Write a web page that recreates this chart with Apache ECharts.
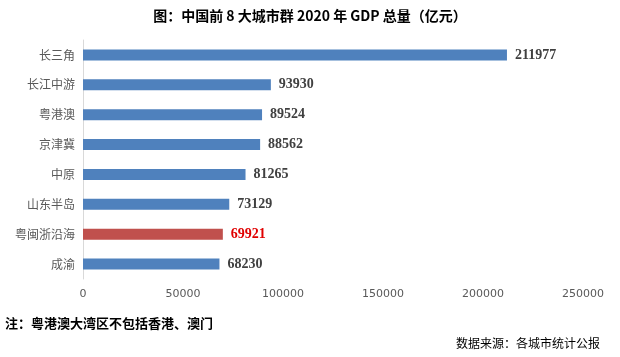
<!DOCTYPE html>
<html><head><meta charset="utf-8">
<script src="https://cdn.jsdelivr.net/npm/echarts@6/dist/echarts.min.js"></script>
<style>html,body{margin:0;padding:0;background:#fff}#c{width:620px;height:357px}</style>
</head><body><div id="c"></div>
<script>
var categories = ['长三角','长江中游','粤港澳','京津冀','中原','山东半岛','粤闽浙沿海','成渝'];
var values = [211977, 93930, 89524, 88562, 81265, 73129, 69921, 68230];
var highlight = '粤闽浙沿海';
var xTicks = [0, 50000, 100000, 150000, 200000, 250000];
var titleText = '图：中国前 8 大城市群 2020 年 GDP 总量（亿元）';
var noteText = '注：粤港澳大湾区不包括香港、澳门';
var sourceText = '数据来源：各城市统计公报';

var cjk = '"Noto Sans CJK SC", "Noto Sans", sans-serif';
var chart = echarts.init(document.getElementById('c'), null, {renderer: 'canvas'});
chart.setOption({
  animation: false,
  backgroundColor: '#fff',
  title: {
    text: titleText, left: 'center', top: 4,
    textStyle: {fontFamily: cjk, fontWeight: 'bold', fontSize: 14, color: '#000'}
  },
  graphic: [
    {type: 'text', left: 5, top: 317, style: {text: noteText, font: 'bold 13px ' + cjk, fill: '#000'}},
    {type: 'text', right: 20, top: 337, style: {text: sourceText, font: '12px ' + cjk, fill: '#000'}}
  ],
  grid: {left: 83, right: 37, top: 40, bottom: 78},
  xAxis: {
    type: 'value', min: xTicks[0], max: xTicks[xTicks.length - 1], interval: 50000,
    axisLine: {show: false}, axisTick: {show: false}, splitLine: {show: false},
    axisLabel: {color: '#595959', fontSize: 11, fontFamily: '"DejaVu Sans", sans-serif', margin: 10,
      formatter: function (v) { return String(v); }}
  },
  yAxis: {
    type: 'category', data: categories, inverse: true,
    axisLine: {show: true, lineStyle: {color: '#d9d9d9', width: 1}},
    axisTick: {show: false},
    axisLabel: {color: '#595959', fontSize: 12, fontFamily: cjk, margin: 8}
  },
  series: [{
    type: 'bar', barWidth: 11,
    data: values.map(function (v, i) {
      var hl = categories[i] === highlight;
      return {
        value: v,
        itemStyle: {color: hl ? '#c0504d' : '#4f81bd'},
        label: {color: hl ? '#e00000' : '#404040'}
      };
    }),
    label: {
      show: true, position: 'right', distance: 8,
      fontFamily: '"Liberation Serif", "Times New Roman", serif', fontWeight: 'bold', fontSize: 14
    }
  }]
});
</script></body></html>
